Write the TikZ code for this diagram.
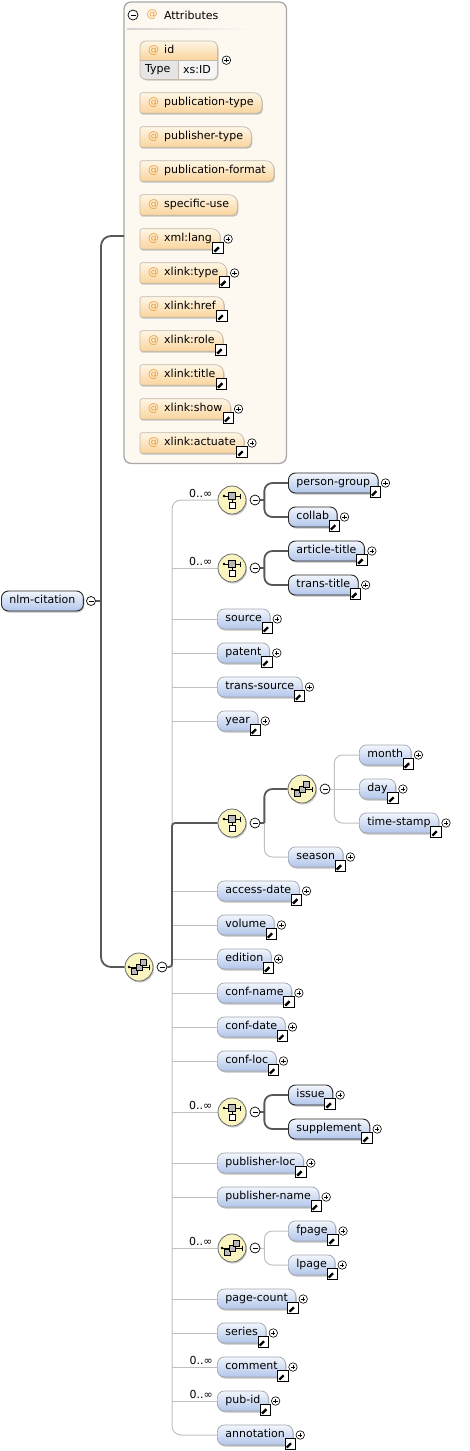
\documentclass[tikz,border=0pt]{standalone}
\usepackage{fontspec}
\setmainfont{DejaVu Sans}
\usetikzlibrary{calc,shadows}
\pgfdeclarelayer{bg}
\pgfdeclarelayer{mid}
\pgfsetlayers{bg,mid,main}
\definecolor{eltop}{RGB}{242,246,253}
\definecolor{elbot}{RGB}{178,198,234}
\definecolor{eldraw}{RGB}{160,165,175}
\definecolor{eldark}{RGB}{40,40,40}
\definecolor{attop}{RGB}{255,246,230}
\definecolor{atbot}{RGB}{250,212,156}
\definecolor{atdraw}{RGB}{195,185,170}
\definecolor{atc}{RGB}{232,160,60}
\definecolor{contfill}{RGB}{253,249,241}
\definecolor{contdraw}{RGB}{168,168,168}
\definecolor{thinc}{RGB}{192,192,192}
\definecolor{thickc}{RGB}{88,88,88}
\definecolor{compfill}{RGB}{250,245,192}
\definecolor{compdraw}{RGB}{105,105,105}
\tikzset{
 every node/.style={font=\fontsize{11}{13}\selectfont},
 el/.style={anchor=west, draw=eldraw, line width=0.7pt, rounded corners=7pt,
   top color=eltop, bottom color=elbot, minimum height=20pt, inner xsep=8pt,
   inner ysep=0pt, text height=8pt, text depth=2.3pt,
   drop shadow={shadow xshift=1pt,shadow yshift=-1.5pt,opacity=0.25,fill=black}},
 req/.style={draw=eldark, line width=0.9pt},
 attxt/.style={anchor=west, minimum height=20pt, inner xsep=8pt, inner ysep=0pt,
   text height=8pt, text depth=2.3pt},
 attshape/.style={draw=atdraw, line width=0.7pt, top color=attop, bottom color=atbot,
   drop shadow={shadow xshift=1pt,shadow yshift=-1.5pt,opacity=0.22,fill=black}},
 arrb/.style={rectangle, draw=black, fill=white, line width=0.9pt, minimum size=10.5pt, inner sep=0pt,
   path picture={
    \draw[line width=2.4pt] ([shift={(-3.6pt,-3.6pt)}]path picture bounding box.center) -- ([shift={(1pt,1pt)}]path picture bounding box.center);
    \fill ([shift={(4pt,4pt)}]path picture bounding box.center) -- ([shift={(-2.2pt,4pt)}]path picture bounding box.center) -- ([shift={(4pt,-2.2pt)}]path picture bounding box.center) -- cycle;}},
 plusb/.style={circle, draw=black, fill=white, line width=0.6pt, minimum size=8.5pt, inner sep=0pt,
   path picture={
    \draw[line width=0.6pt] ([xshift=-2.2pt]path picture bounding box.center) -- ([xshift=2.2pt]path picture bounding box.center)
      ([yshift=-2.2pt]path picture bounding box.center) -- ([yshift=2.2pt]path picture bounding box.center);}},
 minusb/.style={circle, draw=black, fill=white, line width=0.7pt, minimum size=10pt, inner sep=0pt,
   path picture={
    \draw[line width=0.8pt] ([xshift=-2.5pt]path picture bounding box.center) -- ([xshift=2.5pt]path picture bounding box.center);}},
 comp/.style={circle, draw=compdraw, line width=0.8pt, fill=compfill, minimum size=28pt, inner sep=0pt,
   drop shadow={shadow xshift=1pt,shadow yshift=-1.5pt,opacity=0.22,fill=black}},
 lab/.style={anchor=south east, inner sep=0pt},
 thinl/.style={draw=thinc, line width=1pt},
 thickl/.style={draw=thickc, line width=1.8pt},
 choiceic/.pic={
   \draw[line width=0.7pt] (-8,-4) -- (8,-4);
   \fill (-8,-4) circle (1.3pt);
   \draw[line width=0.7pt] (8,-6.5) -- (8,-1.5);
   \draw[line width=0.6pt, fill=gray!55] (-3.5,-7.5) rectangle (3.5,-0.5);
   \draw[line width=0.6pt] (0,-0.5) -- (0,2);
   \draw[line width=0.6pt, fill=white] (-3,2) rectangle (3,8);},
 seqic/.pic={
   \draw[line width=0.7pt] (-10,0) -- (10,0);
   \fill (-10,0) circle (1.3pt);
   \draw[line width=0.7pt] (10,-2.5) -- (10,2.5);
   \draw[line width=0.6pt, fill=gray!55] (-7.5,1.5) rectangle (-1.5,7.5);
   \draw[line width=0.6pt, fill=gray!55] (-3,-3) rectangle (3,3);
   \draw[line width=0.6pt, fill=gray!55] (1.5,-7.5) rectangle (7.5,-1.5);},
}
\newcommand\elem[5][]{%
 \node[el,#1] (#2) at (#3,#4) {#5};
 \node[arrb] (#2-ar) at ($(#2.east)+(-3,9)$) {};
 \node[plusb] (#2-pl) at ($(#2.east)+(7,0)$) {};}
\newcommand\comp[4]{%
 \node[comp] (#1) at (#2,#3) {};
 \pic at (#1) {#4};
 \node[minusb] (#1-m) at ($(#1)+(23,0)$) {};}
\newcommand\attrrow[3]{%
 \node[attxt] (#1) at (140,#2) {\textcolor{atc}{@}\hspace{5pt}#3};
 \begin{pgfonlayer}{mid}
 \shade[attshape] (#1.south west) [rounded corners=2pt] -- (#1.north west) [rounded corners=8pt] -- (#1.north east) [rounded corners=5pt] -- (#1.south east) [rounded corners=2pt] -- cycle;
 \end{pgfonlayer}}
\newcommand\attrarr[1]{\node[arrb] (#1-ar) at ($(#1.east)+(-2,9)$) {};}
\newcommand\attrplus[1]{\node[plusb] (#1-pl) at ($(#1.east)+(8,0)$) {};}
\begin{document}
\begin{tikzpicture}[x=1pt,y=-1pt]
\useasboundingbox (0,0) rectangle (470,1451);
% ---------- attributes container
\node[inner sep=0pt, minimum width=162pt, minimum height=461pt, anchor=north west] (attrs) at (124,2) {};
\begin{pgfonlayer}{bg}
\draw[draw=contdraw, fill=contfill, line width=1.3pt, rounded corners=7pt] (attrs.north west) rectangle (attrs.south east);
\shade[left color=gray!35, right color=contfill] (127,28) rectangle (250,29.5);
\end{pgfonlayer}
\node[minusb] (hm) at (133,15) {};
\node[text=atc] (hat) at (152,15) {@};
\node[anchor=west] (htx) at (160.5,15) {Attributes};
% id attribute
\node[inner sep=0pt, minimum width=77pt, minimum height=38pt, anchor=north west] (a-id) at (140,41) {};
\begin{pgfonlayer}{mid}
\fill[black, opacity=0.2, rounded corners=6pt] (141,42.5) rectangle (218.5,80.5);
\begin{scope}
\clip[rounded corners=6pt] (a-id.north west) rectangle (a-id.south east);
\shade[top color=attop, bottom color=atbot] (140,41) rectangle (217,60);
\fill[gray!20] (140,60) rectangle (178,79);
\fill[gray!8] (178,60) rectangle (217,79);
\end{scope}
\draw[atdraw, line width=0.7pt] (178,60) -- (178,79);
\draw[atdraw, line width=0.7pt] (140,60) -- (217,60);
\draw[atdraw, line width=0.7pt, rounded corners=6pt] (a-id.north west) rectangle (a-id.south east);
\end{pgfonlayer}
\node[attxt, minimum height=19pt] (a-id-t) at (140,50.5) {\textcolor{atc}{@}\hspace{5pt}id};
\node[anchor=west, inner sep=0pt] (a-id-ty) at (145,69.5) {Type};
\node[anchor=west, inner sep=0pt] (a-id-xs) at (183,69.5) {xs:ID};
\node[plusb] (a-id-pl) at ($(a-id.east)+(9,0)$) {};
% other attributes
\attrrow{a-pt}{103}{publication-type}
\attrrow{a-pbt}{137}{publisher-type}
\attrrow{a-pf}{171}{publication-format}
\attrrow{a-su}{205}{specific-use}
\attrrow{a-xl}{239}{xml:lang}\attrarr{a-xl}\attrplus{a-xl}
\attrrow{a-xt}{273}{xlink:type}\attrarr{a-xt}\attrplus{a-xt}
\attrrow{a-xh}{307}{xlink:href}\attrarr{a-xh}
\attrrow{a-xr}{341}{xlink:role}\attrarr{a-xr}
\attrrow{a-xti}{375}{xlink:title}\attrarr{a-xti}
\attrrow{a-xs}{409}{xlink:show}\attrarr{a-xs}\attrplus{a-xs}
\attrrow{a-xa}{443}{xlink:actuate}\attrarr{a-xa}\attrplus{a-xa}
% ---------- root
\node[el, req] (root) at (1,601) {nlm-citation};
\node[minusb, minimum size=9pt] (rootm) at (91,601) {};
% ---------- compositors
\comp{sq}{139}{967}{seqic}
\comp{c1}{232}{500}{choiceic}
\comp{c2}{232}{568}{choiceic}
\comp{c3}{232}{823}{choiceic}
\comp{s1}{302}{789}{seqic}
\comp{c4}{232}{1112}{choiceic}
\comp{c5}{232}{1248}{seqic}
\node[lab] (c1l) at ($(c1.west)+(-5,-2)$) {0..∞};
\node[lab] (c2l) at ($(c2.west)+(-5,-2)$) {0..∞};
\node[lab] (c4l) at ($(c4.west)+(-5,-2)$) {0..∞};
\node[lab] (c5l) at ($(c5.west)+(-5,-2)$) {0..∞};
% ---------- elements
\elem[req]{person-group}{288}{483}{person-group}
\elem[req]{collab}{288}{517}{collab}
\elem[req]{article-title}{288}{551}{article-title}
\elem[req]{trans-title}{288}{585}{trans-title}
\elem{source}{217}{619}{source}
\elem{patent}{217}{653}{patent}
\elem{trans-source}{217}{687}{trans-source}
\elem{year}{217}{721}{year}
\elem{month}{359}{755}{month}
\elem{day}{359}{789}{day}
\elem{time-stamp}{359}{823}{time-stamp}
\elem{season}{288}{857}{season}
\elem{access-date}{217}{891}{access-date}
\elem{volume}{217}{925}{volume}
\elem{edition}{217}{959}{edition}
\elem{conf-name}{217}{993}{conf-name}
\elem{conf-date}{217}{1027}{conf-date}
\elem{conf-loc}{217}{1061}{conf-loc}
\elem[req]{issue}{288}{1095}{issue}
\elem[req]{supplement}{288}{1129}{supplement}
\elem{publisher-loc}{217}{1163}{publisher-loc}
\elem{publisher-name}{217}{1197}{publisher-name}
\elem{fpage}{288}{1231}{fpage}
\elem{lpage}{288}{1265}{lpage}
\elem{page-count}{217}{1299}{page-count}
\elem{series}{217}{1333}{series}
\elem{comment}{217}{1367}{comment}
\elem{pub-id}{217}{1401}{pub-id}
\elem{annotation}{217}{1435}{annotation}
\node[lab] (cml) at ($(comment.west)+(-4,-2)$) {0..∞};
\node[lab] (pil) at ($(pub-id.west)+(-4,-2)$) {0..∞};
% ---------- connectors
\begin{pgfonlayer}{bg}
\coordinate (ain) at (124,236);
\coordinate (rt) at (101,601);
\coordinate (tk) at (172,967);
\draw[thinl, rounded corners=9pt] (c1.west) -| (tk);
\draw[thinl, rounded corners=9pt] (annotation.west) -| (tk);
\foreach \n in {c2,source,patent,trans-source,year,access-date,volume,edition,conf-name,conf-date,conf-loc,c4,publisher-loc,publisher-name,c5,page-count,series,comment,pub-id}
  \draw[thinl] (tk |- \n.west) -- (\n.west);
% c3 subtree
\draw[thickl] (c3-m.east) -- ++(4,0) coordinate (f3);
\draw[thinl, rounded corners=8pt] (f3) |- (season.west);
\draw[thickl, rounded corners=8pt] (f3) |- (s1.west);
\draw[thinl] (s1-m.east) -- ++(4,0) coordinate (fs);
\draw[thinl, rounded corners=8pt] (fs) |- (month.west);
\draw[thinl, rounded corners=8pt] (fs) |- (time-stamp.west);
\draw[thinl] (fs) -- (day.west);
% c5 subtree
\draw[thinl] (c5-m.east) -- ++(4,0) coordinate (f5);
\draw[thinl, rounded corners=8pt] (f5) |- (fpage.west);
\draw[thinl, rounded corners=8pt] (f5) |- (lpage.west);
% thick
\draw[thickl, rounded corners=10pt] (ain) -| (rt) |- (sq.west);
\draw[thickl] (rootm.east) -- (rt);
\draw[thickl, rounded corners=3pt] (sq-m.east) -- (tk) |- (c3.west);
\draw[thickl] (c1-m.east) -- ++(4,0) coordinate (f1);
\draw[thickl, rounded corners=8pt] (f1) |- (person-group.west);
\draw[thickl, rounded corners=8pt] (f1) |- (collab.west);
\draw[thickl] (c2-m.east) -- ++(4,0) coordinate (f2);
\draw[thickl, rounded corners=8pt] (f2) |- (article-title.west);
\draw[thickl, rounded corners=8pt] (f2) |- (trans-title.west);
\draw[thickl] (c4-m.east) -- ++(4,0) coordinate (f4);
\draw[thickl, rounded corners=8pt] (f4) |- (issue.west);
\draw[thickl, rounded corners=8pt] (f4) |- (supplement.west);
\end{pgfonlayer}
\end{tikzpicture}
\end{document}
